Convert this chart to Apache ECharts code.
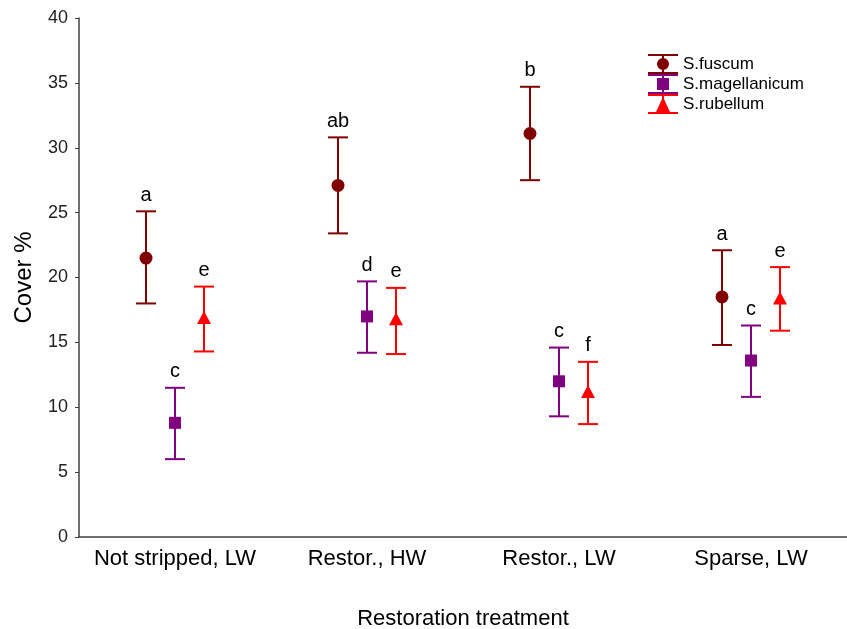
<!DOCTYPE html>
<html>
<head>
<meta charset="utf-8">
<script src="https://cdn.jsdelivr.net/npm/echarts@6/dist/echarts.min.js"></script>
<style>
html, body { margin: 0; padding: 0; background: #fff; }
#chart { width: 847px; height: 629px; }
</style>
</head>
<body>
<div id="chart"></div>
<script>
var categories = ['Not stripped, LW', 'Restor., HW', 'Restor., LW', 'Sparse, LW'];

var fuscumMean = [21.5, 27.1, 31.1, 18.5];
var fuscumLow = [18.0, 23.4, 27.5, 14.8];
var fuscumHigh = [25.1, 30.8, 34.7, 22.1];
var fuscumLetters = ['a', 'ab', 'b', 'a'];

var magMean = [8.8, 17.0, 12.0, 13.6];
var magLow = [6.0, 14.2, 9.3, 10.8];
var magHigh = [11.5, 19.7, 14.6, 16.3];
var magLetters = ['c', 'd', 'c', 'c'];

var rubMean = [16.8, 16.7, 11.1, 18.3];
var rubLow = [14.3, 14.1, 8.7, 15.9];
var rubHigh = [19.3, 19.2, 13.5, 20.8];
var rubLetters = ['e', 'e', 'f', 'e'];

function rows(mean, low, high) {
	var d = [];
	for (var i = 0; i < mean.length; i++) {
		d.push([i, mean[i], low[i], high[i]]);
	}
	return d;
}

function makeSeries(name, color, shape, offset, mean, low, high, letters) {
	return {
		name: name,
		type: 'custom',
		itemStyle: { color: color },
		data: rows(mean, low, high),
		renderItem: function (params, api) {
			var i = api.value(0);
			var c = api.coord([i, api.value(1)]);
			var lo = api.coord([i, api.value(2)]);
			var hi = api.coord([i, api.value(3)]);
			var x = c[0] + offset;
			var st = { stroke: color, lineWidth: 2 };
			var kids = [
				{ type: 'line', shape: { x1: x, y1: lo[1], x2: x, y2: hi[1] }, style: st },
				{ type: 'line', shape: { x1: x - 10, y1: hi[1], x2: x + 10, y2: hi[1] }, style: st },
				{ type: 'line', shape: { x1: x - 10, y1: lo[1], x2: x + 10, y2: lo[1] }, style: st }
			];
			if (shape == 'circle') {
				kids.push({ type: 'circle', shape: { cx: x, cy: c[1], r: 6.5 }, style: { fill: color } });
			} else if (shape == 'square') {
				kids.push({ type: 'rect', shape: { x: x - 6, y: c[1] - 6, width: 12, height: 12 }, style: { fill: color } });
			} else {
				kids.push({ type: 'polygon', shape: { points: [[x, c[1] - 8], [x + 7, c[1] + 5], [x - 7, c[1] + 5]] }, style: { fill: color } });
			}
			// significance letter above the upper cap
			kids.push({
				type: 'text',
				style: {
					text: letters[i], x: x, y: hi[1] - 6,
					align: 'center', verticalAlign: 'bottom',
					fontSize: 20, fontFamily: 'Arial', fill: '#000'
				}
			});
			return { type: 'group', children: kids };
		}
	};
}

var bars = 'M0,0H30V2H0Z M14,0H16V20H14Z M0,18H30V20H0Z ';
var option = {
	animation: false,
	textStyle: { fontFamily: 'Arial' },
	grid: { left: 79, right: 0, top: 18, bottom: 92, outerBoundsMode: 'none', containLabel: false },
	legend: {
		orient: 'vertical',
		left: 643,
		top: 49,
		itemWidth: 30,
		itemHeight: 20,
		itemGap: 0,
		textStyle: { fontSize: 17, color: '#000' },
		data: [
			{ name: 'S.fuscum', icon: 'path://' + bars + 'M21,10A6,6 0 1,1 9,10A6,6 0 1,1 21,10Z' },
			{ name: 'S.magellanicum', icon: 'path://' + bars + 'M9,4H21V16H9Z' },
			{ name: 'S.rubellum', icon: 'path://' + bars + 'M15,3L22,18H8Z' }
		]
	},
	xAxis: {
		type: 'category',
		data: categories,
		name: 'Restoration treatment',
		nameLocation: 'middle',
		nameGap: 71,
		nameTextStyle: { fontSize: 22, color: '#000' },
		axisLine: { lineStyle: { color: '#404040', width: 1.5 } },
		axisTick: { alignWithLabel: true, length: 4, lineStyle: { color: '#404040' } },
		axisLabel: { fontSize: 22, color: '#000', margin: 11, interval: 0, hideOverlap: false }
	},
	yAxis: {
		type: 'value',
		min: 0,
		max: 40,
		interval: 5,
		name: 'Cover %',
		nameLocation: 'middle',
		nameGap: 43,
		nameTextStyle: { fontSize: 24, color: '#000' },
		splitLine: { show: false },
		axisLine: { show: true, lineStyle: { color: '#404040', width: 1.5 } },
		axisTick: { show: true, length: 4, lineStyle: { color: '#404040' } },
		axisLabel: { fontSize: 18, color: '#222', margin: 11 }
	},
	series: [
		makeSeries('S.fuscum', '#800000', 'circle', -29, fuscumMean, fuscumLow, fuscumHigh, fuscumLetters),
		makeSeries('S.magellanicum', '#800080', 'square', 0, magMean, magLow, magHigh, magLetters),
		makeSeries('S.rubellum', '#ff0000', 'triangle', 29, rubMean, rubLow, rubHigh, rubLetters)
	]
};

var myChart = echarts.init(document.getElementById('chart'));
myChart.setOption(option);
</script>
</body>
</html>
